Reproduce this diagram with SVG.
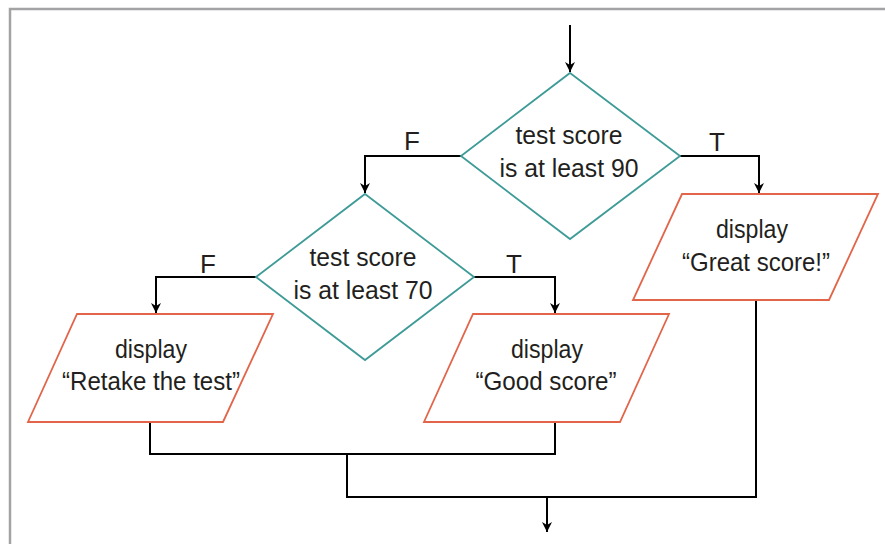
<svg xmlns="http://www.w3.org/2000/svg" width="885" height="544" viewBox="0 0 885 544">
  <style>
    .frame { fill: none; stroke: #a3a3a5; stroke-width: 2.5; }
    .decision { fill: #ffffff; stroke: #3e9b97; stroke-width: 1.8; }
    .io { fill: #ffffff; stroke: #e2654a; stroke-width: 1.8; }
    .flow { fill: none; stroke: #000000; stroke-width: 2; }
    .label { font-family: "Liberation Sans", Arial, sans-serif; font-size: 25px; fill: #231f20; text-anchor: middle; }
    .branch { font-family: "Liberation Sans", Arial, sans-serif; font-size: 26px; fill: #231f20; text-anchor: middle; }
  </style>
  <defs>
    <marker id="arrow" viewBox="0 0 10 16" refX="10" refY="8" markerWidth="10" markerHeight="16" markerUnits="userSpaceOnUse" orient="auto">
      <path d="M0,3 L10,8 L0,13 L3,8 Z" fill="#000000"/>
    </marker>
  </defs>

  <!-- outer frame -->
  <path class="frame" d="M10,544 L10,9 L885,9"/>

  <!-- connectors -->
  <g id="connectors">
    <path class="flow" d="M570,25 L570,72" marker-end="url(#arrow)"/>
    <path class="flow" d="M461,156 L365,156 L365,193" marker-end="url(#arrow)"/>
    <path class="flow" d="M680,156 L759,156 L759,193" marker-end="url(#arrow)"/>
    <path class="flow" d="M256,277 L156,277 L156,313" marker-end="url(#arrow)"/>
    <path class="flow" d="M474,277 L555,277 L555,313" marker-end="url(#arrow)"/>
    <path class="flow" d="M150,422 L150,454 L555,454 L555,422"/>
    <path class="flow" d="M347,454 L347,497 L756,497 L756,300"/>
    <path class="flow" d="M547,497 L547,532" marker-end="url(#arrow)"/>
    <text class="branch" x="412" y="150">F</text>
    <text class="branch" x="717" y="151">T</text>
    <text class="branch" x="208" y="273">F</text>
    <text class="branch" x="514" y="273">T</text>
  </g>

  <!-- decision: score >= 90 -->
  <g id="decision90">
    <polygon class="decision" points="570,73 680,156 570,239 461,156"/>
    <text class="label" x="569" y="144" textLength="107" lengthAdjust="spacingAndGlyphs">test score</text>
    <text class="label" x="569" y="177" textLength="139" lengthAdjust="spacingAndGlyphs">is at least 90</text>
  </g>

  <!-- decision: score >= 70 -->
  <g id="decision70">
    <polygon class="decision" points="365,194 474,277 365,360 256,277"/>
    <text class="label" x="363" y="266" textLength="107" lengthAdjust="spacingAndGlyphs">test score</text>
    <text class="label" x="363" y="299" textLength="139" lengthAdjust="spacingAndGlyphs">is at least 70</text>
  </g>

  <!-- output: great score -->
  <g id="outGreat">
    <polygon class="io" points="682,194 878,194 829,300 633,300"/>
    <text class="label" x="752" y="238" textLength="72" lengthAdjust="spacingAndGlyphs">display</text>
    <text class="label" x="756" y="271" textLength="148" lengthAdjust="spacingAndGlyphs">“Great score!”</text>
  </g>

  <!-- output: retake -->
  <g id="outRetake">
    <polygon class="io" points="77,314 273,314 223,422 28,422"/>
    <text class="label" x="151" y="358" textLength="72" lengthAdjust="spacingAndGlyphs">display</text>
    <text class="label" x="151" y="390" textLength="178" lengthAdjust="spacingAndGlyphs">“Retake the test”</text>
  </g>

  <!-- output: good score -->
  <g id="outGood">
    <polygon class="io" points="473,314 669,314 620,422 424,422"/>
    <text class="label" x="547" y="358" textLength="72" lengthAdjust="spacingAndGlyphs">display</text>
    <text class="label" x="546" y="390" textLength="141" lengthAdjust="spacingAndGlyphs">“Good score”</text>
  </g>
</svg>
